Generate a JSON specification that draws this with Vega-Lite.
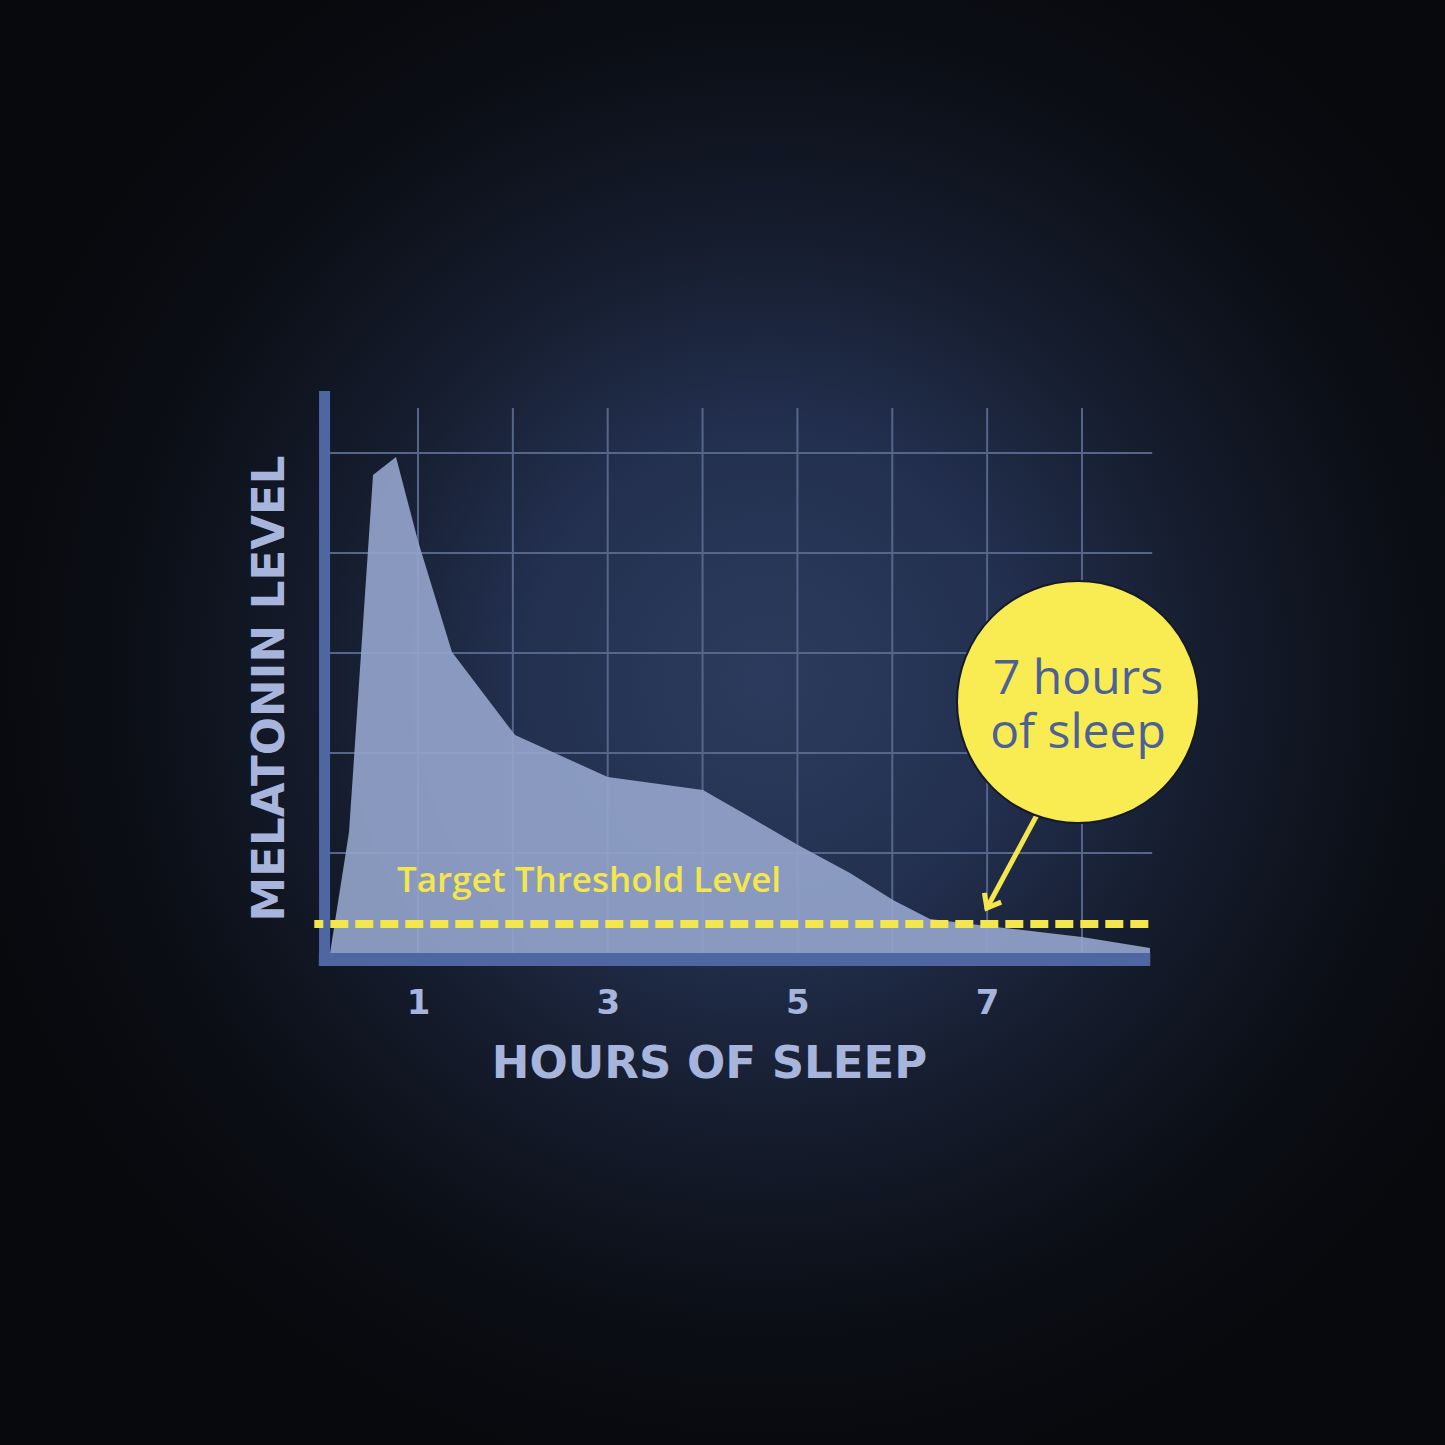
{
  "$schema": "https://vega.github.io/schema/vega-lite/v6.json",
  "description": "Melatonin level over hours of sleep, with target threshold",
  "width": 1445,
  "height": 1445,
  "autosize": {"type": "fit", "contains": "padding"},
  "padding": 0,
  "background": "#08090d",
  "config": {
    "view": {
      "stroke": null,
      "fill": {
        "gradient": "radial",
        "x1": 0.53, "y1": 0.47, "r1": 0,
        "x2": 0.53, "y2": 0.47, "r2": 0.56,
        "stops": [
          {"offset": 0, "color": "#2c3b5d"},
          {"offset": 0.3, "color": "#233050"},
          {"offset": 0.55, "color": "#151c2d"},
          {"offset": 0.8, "color": "#0b0e15"},
          {"offset": 1, "color": "#08090d"}
        ]
      }
    }
  },
  "datasets": {
    "curve": [
      {"hours": 0.073, "level": 0},
      {"hours": 0.273, "level": 1.21},
      {"hours": 0.526, "level": 4.78},
      {"hours": 0.768, "level": 4.96},
      {"hours": 1.0, "level": 4.12},
      {"hours": 1.358, "level": 3.01},
      {"hours": 2.023, "level": 2.18},
      {"hours": 3.0, "level": 1.76},
      {"hours": 4.004, "level": 1.63},
      {"hours": 4.5, "level": 1.36},
      {"hours": 5.006, "level": 1.08},
      {"hours": 5.554, "level": 0.8},
      {"hours": 6.007, "level": 0.53},
      {"hours": 6.397, "level": 0.34},
      {"hours": 6.998, "level": 0.27},
      {"hours": 8.0, "level": 0.16},
      {"hours": 8.717, "level": 0.05}
    ],
    "vgrid": [
      {"hours": 1}, {"hours": 2}, {"hours": 3}, {"hours": 4},
      {"hours": 5}, {"hours": 6}, {"hours": 7}, {"hours": 8}
    ],
    "hgrid": [
      {"level": 1}, {"level": 2}, {"level": 3}, {"level": 4}, {"level": 5}
    ],
    "threshold": [
      {"level": 0.29, "label": "Target Threshold Level"}
    ],
    "arrow": [
      {"hours": 7.61, "level": 1.53, "hours_end": 6.998, "level_end": 0.45}
    ],
    "callout": [
      {"hours": 7.958, "level": 2.51, "label": "7 hours\nof sleep"}
    ]
  },
  "layer": [
    {
      "description": "vertical grid",
      "data": {"name": "vgrid"},
      "mark": {"type": "rule", "color": "#56668b", "strokeWidth": 2},
      "encoding": {
        "x": {
          "field": "hours",
          "type": "quantitative",
          "scale": {"domain": [-3.4066, 11.827], "nice": false, "zero": false},
          "axis": {
            "orient": "bottom",
            "offset": -492,
            "values": [1, 3, 5, 7],
            "format": "d",
            "domain": false,
            "ticks": false,
            "tickSize": 0,
            "grid": false,
            "labelFont": "DejaVu Sans",
            "labelFontSize": 34,
            "labelFontWeight": "bold",
            "labelColor": "#a7b5dc",
            "labelBaseline": "alphabetic",
            "labelPadding": 60,
            "labelFlush": false,
            "labelOverlap": false,
            "title": "HOURS OF SLEEP",
            "titleFont": "DejaVu Sans",
            "titleFontSize": 45,
            "titleFontWeight": "bold",
            "titleColor": "#a7b5dc",
            "titleBaseline": "alphabetic",
            "titleAlign": "center",
            "titleX": 709,
            "titleY": 124
          }
        },
        "y": {
          "datum": 0,
          "type": "quantitative",
          "scale": {"domain": [-4.92, 9.53], "nice": false, "zero": false}
        },
        "y2": {"datum": 5.45}
      }
    },
    {
      "description": "horizontal grid",
      "data": {"name": "hgrid"},
      "mark": {"type": "rule", "color": "#56668b", "strokeWidth": 2},
      "encoding": {
        "y": {
          "field": "level",
          "type": "quantitative",
          "axis": {
            "orient": "left",
            "offset": -323,
            "labels": false,
            "domain": false,
            "ticks": false,
            "tickSize": 0,
            "grid": false,
            "title": "MELATONIN LEVEL",
            "titleFont": "DejaVu Sans",
            "titleFontSize": 45,
            "titleFontWeight": "bold",
            "titleColor": "#a7b5dc",
            "titleAngle": 270,
            "titleBaseline": "alphabetic",
            "titleAlign": "center",
            "titleX": -40,
            "titleY": 688
          }
        },
        "x": {"datum": 0.07, "type": "quantitative"},
        "x2": {"datum": 8.74}
      }
    },
    {
      "description": "melatonin curve",
      "data": {"name": "curve"},
      "mark": {"type": "area", "color": "#93a3ca", "opacity": 0.92, "interpolate": "linear"},
      "encoding": {
        "x": {"field": "hours", "type": "quantitative"},
        "y": {"field": "level", "type": "quantitative"},
        "y2": {"datum": 0}
      }
    },
    {
      "description": "left axis bar",
      "data": {"values": [{}]},
      "mark": {"type": "rule", "color": "#4e67a3", "strokeWidth": 11, "strokeCap": "butt"},
      "encoding": {
        "x": {"datum": 0.015, "type": "quantitative"},
        "y": {"datum": 5.62, "type": "quantitative"},
        "y2": {"datum": -0.13}
      }
    },
    {
      "description": "bottom axis bar",
      "data": {"values": [{}]},
      "mark": {"type": "rule", "color": "#4e67a3", "strokeWidth": 13, "strokeCap": "butt"},
      "encoding": {
        "y": {"datum": -0.065, "type": "quantitative"},
        "x": {"datum": -0.045, "type": "quantitative"},
        "x2": {"datum": 8.72}
      }
    },
    {
      "description": "target threshold",
      "data": {"name": "threshold"},
      "mark": {
        "type": "rule",
        "color": "#f4e64d",
        "strokeWidth": 8,
        "strokeDash": [18, 7],
        "strokeDashOffset": 9,
        "strokeCap": "butt"
      },
      "encoding": {
        "y": {"field": "level", "type": "quantitative"},
        "x": {"datum": -0.093, "type": "quantitative"},
        "x2": {"datum": 8.77}
      }
    },
    {
      "description": "threshold label",
      "data": {"name": "threshold"},
      "mark": {
        "type": "text",
        "align": "left",
        "baseline": "alphabetic",
        "dy": -32,
        "font": "Open Sans",
        "fontSize": 35,
        "fontWeight": 600,
        "color": "#f4e64d"
      },
      "encoding": {
        "y": {"field": "level", "type": "quantitative"},
        "x": {"datum": 0.779, "type": "quantitative"},
        "text": {"field": "label"}
      }
    },
    {
      "description": "callout arrow",
      "data": {"name": "arrow"},
      "mark": {"type": "rule", "color": "#f4e64d", "strokeWidth": 5, "strokeCap": "round"},
      "encoding": {
        "x": {"field": "hours", "type": "quantitative"},
        "y": {"field": "level", "type": "quantitative"},
        "x2": {"field": "hours_end"},
        "y2": {"field": "level_end"}
      }
    },
    {
      "description": "arrow head",
      "data": {"name": "arrow"},
      "mark": {
        "type": "point",
        "shape": "M -0.8 -1 L 0 0 L 0.8 -1",
        "filled": false,
        "size": 576,
        "angle": 29,
        "strokeWidth": 5,
        "strokeJoin": "miter",
        "color": "#f4e64d",
        "opacity": 1
      },
      "encoding": {
        "x": {"field": "hours_end", "type": "quantitative"},
        "y": {"field": "level_end", "type": "quantitative"}
      }
    },
    {
      "description": "callout bubble",
      "data": {"name": "callout"},
      "mark": {
        "type": "point",
        "shape": "circle",
        "filled": true,
        "size": 58564,
        "fill": "#f9ec52",
        "stroke": "#151a26",
        "strokeWidth": 2,
        "opacity": 1
      },
      "encoding": {
        "x": {"field": "hours", "type": "quantitative"},
        "y": {"field": "level", "type": "quantitative"}
      }
    },
    {
      "description": "callout text",
      "data": {"name": "callout"},
      "mark": {
        "type": "text",
        "align": "center",
        "baseline": "middle",
        "lineBreak": "\n",
        "lineHeight": 54,
        "dy": -22,
        "font": "Open Sans",
        "fontSize": 48,
        "fontWeight": 500,
        "color": "#4b6197"
      },
      "encoding": {
        "x": {"field": "hours", "type": "quantitative"},
        "y": {"field": "level", "type": "quantitative"},
        "text": {"field": "label"}
      }
    }
  ]
}
